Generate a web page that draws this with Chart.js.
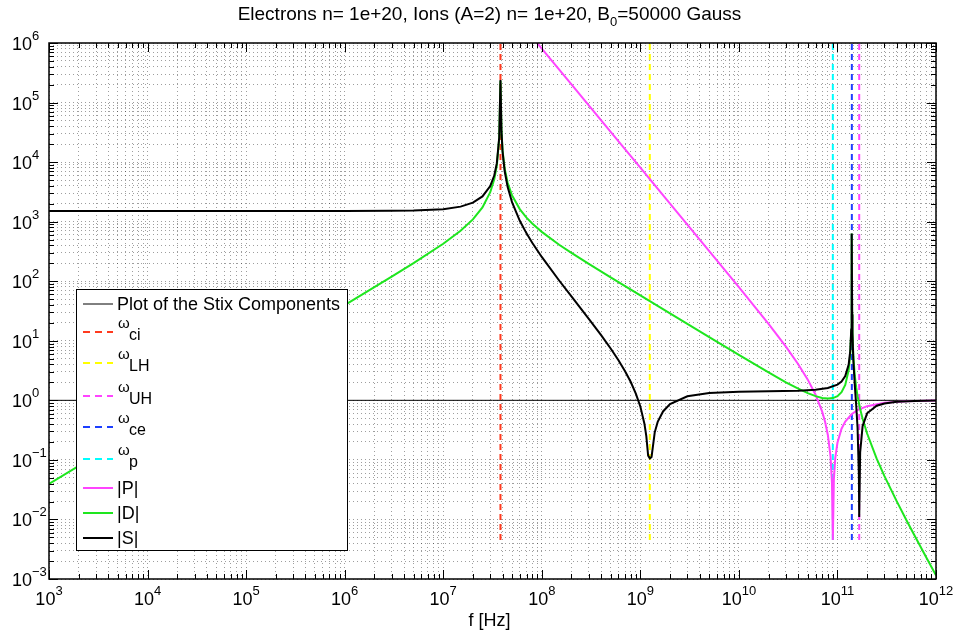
<!DOCTYPE html>
<html>
<head>
<meta charset="utf-8">
<title>Stix components</title>
<script src="https://cdn.jsdelivr.net/npm/chart.js@4.4.1/dist/chart.umd.min.js"></script>
<style>
  html, body { margin: 0; padding: 0; background: #fff; }
  #wrap { width: 958px; height: 635px; }
</style>
</head>
<body>
<div id="wrap"><canvas id="stix" width="958" height="635"></canvas></div>
<script>
// Stix components |P|, |D|, |S| vs frequency

var xTickExps = [3, 4, 5, 6, 7, 8, 9, 10, 11, 12];
var yTickExps = [-3, -2, -1, 0, 1, 2, 3, 4, 5, 6];

var sFreq = [1e3, 1e4, 1e5, 1e6, 3e6, 5e6, 1e7, 1.5e7, 2e7, 2.5e7, 3e7, 3.3e7, 3.5e7, 3.7e7, 3.81e7,
  3.9e7, 4e7, 4.2e7, 4.5e7, 5e7, 6e7, 7e7, 8e7, 1e8, 1.5e8, 2e8, 3e8, 4e8, 5e8, 6e8, 7e8, 8e8, 9e8,
  1e9, 1.1e9, 1.15e9, 1.2e9, 1.25e9, 1.3e9, 1.4e9, 1.5e9, 1.7e9, 2e9, 3e9, 5e9, 1e10, 2e10, 4e10,
  6e10, 8e10, 1e11, 1.1e11, 1.2e11, 1.3e11, 1.35e11, 1.38e11, 1.39e11, 1.4e11, 1.41e11, 1.42e11,
  1.45e11, 1.5e11, 1.55e11, 1.6e11, 1.65e11, 1.663e11, 1.7e11, 1.8e11, 2e11, 2.5e11, 3e11, 4e11,
  6e11, 1e12];
var sAbs = [1512, 1512, 1512, 1513, 1521, 1538, 1623, 1788, 2085, 2651, 3967, 6022, 9602, 25927, 2.4e5,
  32769, 15008, 7076, 3843, 2098, 1023, 636, 442, 255.5, 102.9, 55.5, 23.4, 12.44, 7.42, 4.71, 3.08, 2.03, 1.30,
  0.788, 0.406, 0.251, 0.118, 0.106, 0.112, 0.290, 0.435, 0.651, 0.862, 1.167, 1.324, 1.391, 1.414, 1.446,
  1.503, 1.610, 1.839, 2.075, 2.550, 3.985, 6.86, 15.5, 29.9, 630, 27.7, 13.3,
  4.66, 1.78, 0.822, 0.343, 0.057, 0.011, 0.133, 0.370, 0.605, 0.812, 0.886, 0.943,
  0.976, 0.992];

var dFreq = [1e3, 1e4, 1e5, 1e6, 3e6, 5e6, 1e7, 1.5e7, 2e7, 2.5e7, 3e7, 3.3e7, 3.5e7, 3.7e7, 3.81e7,
  3.9e7, 4e7, 4.2e7, 4.5e7, 5e7, 6e7, 7e7, 8e7, 1e8, 1.5e8, 2e8, 3e8, 5e8, 1e9, 2e9, 5e9, 1e10,
  2e10, 3e10, 4e10, 5e10, 6e10, 7e10, 8e10, 9e10, 1e11, 1.1e11, 1.2e11, 1.3e11, 1.35e11, 1.38e11,
  1.39e11, 1.4e11, 1.41e11, 1.42e11, 1.45e11, 1.5e11, 1.55e11, 1.6e11, 1.7e11, 1.8e11, 2e11,
  2.5e11, 3e11, 4e11, 5e11, 6e11, 8e11, 1e12];
var dAbs = [0.0396, 0.396, 3.96, 39.6, 119.5, 201.5, 425, 703, 1093, 1737, 3119, 5209, 8810, 25149, 2.3e5,
  33375, 15740, 7793, 4535, 2751, 1609, 1169, 931, 674, 410, 299, 195, 115.8, 57.7, 28.8, 11.53, 5.79,
  2.94, 2.01, 1.567, 1.320, 1.175, 1.097, 1.069, 1.090, 1.175, 1.368, 1.808, 3.215, 6.08, 14.7,
  29.1, 630, 28.5, 14.1, 5.46, 2.59, 1.645, 1.175, 0.714, 0.490, 0.277,
  0.105, 0.0534, 0.0201, 0.0098, 0.00553, 0.00227, 0.00115];

var pFreq = [8e7, 9e7, 1e8, 2e8, 5e8, 1e9, 2e9, 5e9, 1e10, 2e10, 3e10, 4e10, 5e10, 6e10, 7e10, 7.5e10,
  8e10, 8.5e10, 8.8e10, 8.98e10, 9.2e10, 9.5e10, 1e11, 1.1e11, 1.2e11, 1.4e11, 1.6e11, 2e11, 3e11,
  5e11, 1e12];
var pAbs = [1.26e6, 9.95e5, 8.06e5, 2.016e5, 3.22e4, 8061, 2015, 321.5, 79.6, 19.16, 7.96, 4.04, 2.225,
  1.240, 0.645, 0.433, 0.260, 0.116, 0.0411, 0.0045, 0.0475, 0.107, 0.194, 0.334, 0.440, 0.589, 0.685,
  0.798, 0.910, 0.968, 0.992];

// unity reference line ("Plot of the Stix Components")
var unityFreq = [1e3, 1e12];
var unityVal = [1, 1];

// characteristic frequencies, drawn as dashed verticals
var resNames = ["ci", "LH", "UH", "ce", "p"];
var resFreqs = [3.81e7, 1.248e9, 1.663e11, 1.4e11, 8.98e10];
var resColors = ["#ff3a1e", "#ffff00", "#ff44ff", "#1c3fff", "#00ffff"];
var resSpan = [4.5e-3, 1e6];

var FONT = '"Liberation Sans", Arial, Helvetica, sans-serif';

function toPoints(xs, ys) {
  return xs.map(function (x, i) { return { x: x, y: ys[i] }; });
}

function logTicks(e0, e1) {
  var ticks = [];
  for (var e = e0; e < e1; e++) {
    for (var m = 1; m <= 9; m++) {
      ticks.push({ value: m * Math.pow(10, e), major: m === 1 });
    }
  }
  ticks.push({ value: Math.pow(10, e1), major: true });
  return ticks;
}

// legend rows drawn by hand so the subscripts come out like the original
var legendRows = [
  { main: "Plot of the Stix Components", sub: "", color: "#000", dash: [], width: 1 }
];
resNames.forEach(function (n, i) {
  legendRows.push({ main: "\u03c9", sub: n, color: resColors[i], dash: [7, 5], width: 2 });
});
legendRows.push({ main: "|P|", sub: "", color: "#ff44ff", dash: [], width: 2 });
legendRows.push({ main: "|D|", sub: "", color: "#1ee61e", dash: [], width: 2 });
legendRows.push({ main: "|S|", sub: "", color: "#000", dash: [], width: 2 });
var legendRowY = [304, 332, 363, 396, 427, 459, 488, 513, 538];

function textW(ctx, s, size) {
  ctx.font = size + "px " + FONT;
  return ctx.measureText(s).width;
}

function drawPow(ctx, exp, x, baseY, supY) {
  ctx.font = "18px " + FONT;
  ctx.fillText("10", x, baseY);
  var w = ctx.measureText("10").width;
  ctx.font = "13px " + FONT;
  ctx.fillText(exp, x + w, supY);
}

var decor = {
  id: "decor",
  afterDraw: function (chart) {
    var ctx = chart.ctx;
    var a = chart.chartArea;
    var xs = chart.scales.x;
    var ys = chart.scales.y;
    ctx.save();

    // inward tick marks on all four sides
    ctx.strokeStyle = "#000";
    ctx.lineWidth = 1;
    ctx.setLineDash([]);
    ctx.beginPath();
    xs.ticks.forEach(function (t) {
      var px = Math.round(xs.getPixelForValue(t.value)) + 0.5;
      var len = t.major ? 9 : 5;
      ctx.moveTo(px, a.bottom); ctx.lineTo(px, a.bottom - len);
      ctx.moveTo(px, a.top); ctx.lineTo(px, a.top + len);
    });
    ys.ticks.forEach(function (t) {
      var py = Math.round(ys.getPixelForValue(t.value)) + 0.5;
      var len = t.major ? 9 : 5;
      ctx.moveTo(a.left, py); ctx.lineTo(a.left + len, py);
      ctx.moveTo(a.right, py); ctx.lineTo(a.right - len, py);
    });
    ctx.stroke();

    ctx.lineWidth = 1.5;
    ctx.strokeRect(a.left, a.top, a.right - a.left, a.bottom - a.top);

    // tick labels 10^n
    ctx.fillStyle = "#000";
    ctx.textAlign = "left";
    ctx.textBaseline = "alphabetic";
    xTickExps.forEach(function (e) {
      var lbl = String(e).replace("-", "\u2212");
      var w = textW(ctx, "10", 18) + textW(ctx, lbl, 13);
      var px = xs.getPixelForValue(Math.pow(10, e));
      drawPow(ctx, lbl, px - w / 2, 605, 595);
    });
    yTickExps.forEach(function (e) {
      var lbl = String(e).replace("-", "\u2212");
      var py = ys.getPixelForValue(Math.pow(10, e));
      drawPow(ctx, lbl, 12, py + 7, py - 3);
    });

    // axis label and title
    var cx = (a.left + a.right) / 2 - 3;
    ctx.font = "18px " + FONT;
    ctx.textAlign = "center";
    ctx.fillText("f [Hz]", cx, 626);

    var t1 = "Electrons n= 1e+20, Ions (A=2) n= 1e+20, B";
    var t2 = "0";
    var t3 = "=50000 Gauss";
    var w1 = textW(ctx, t1, 19), w2 = textW(ctx, t2, 13), w3 = textW(ctx, t3, 19);
    var tx = cx - (w1 + w2 + w3) / 2;
    ctx.textAlign = "left";
    ctx.font = "19px " + FONT;
    ctx.fillText(t1, tx, 20);
    ctx.font = "13px " + FONT;
    ctx.fillText(t2, tx + w1, 26);
    ctx.font = "19px " + FONT;
    ctx.fillText(t3, tx + w1 + w2, 20);

    // legend box
    var lx = 76, ly = 289, lw = 271, lh = 261;
    ctx.fillStyle = "#fff";
    ctx.fillRect(lx, ly, lw, lh);
    ctx.strokeStyle = "#000";
    ctx.lineWidth = 1;
    ctx.strokeRect(lx + 0.5, ly + 0.5, lw, lh);
    legendRows.forEach(function (r, i) {
      var y = legendRowY[i];
      ctx.strokeStyle = r.color;
      ctx.lineWidth = r.width;
      ctx.setLineDash(r.dash);
      ctx.beginPath();
      ctx.moveTo(83, y);
      ctx.lineTo(113, y);
      ctx.stroke();
      ctx.setLineDash([]);
      ctx.fillStyle = "#000";
      if (r.sub) {
        ctx.font = "15px " + FONT;
        ctx.fillText(r.main, 118, y - 4);
        ctx.font = "16px " + FONT;
        ctx.fillText(r.sub, 129, y + 8);
      } else {
        ctx.font = "18px " + FONT;
        ctx.fillText(r.main, 117, y + 6);
      }
    });

    ctx.restore();
  }
};

function lineSet(label, xs, ys, color, width, dash, order) {
  return {
    label: label,
    data: toPoints(xs, ys),
    borderColor: color,
    backgroundColor: color,
    borderWidth: width,
    borderDash: dash,
    pointRadius: 0,
    tension: 0,
    fill: false,
    order: order
  };
}

var datasets = [];
datasets.push(lineSet("Plot of the Stix Components", unityFreq, unityVal, "#000", 1, [], 10));
resNames.forEach(function (n, i) {
  datasets.push(lineSet("w_" + n, [resFreqs[i], resFreqs[i]], resSpan, resColors[i], 2, [6, 4], 9 - i));
});
datasets.push(lineSet("|P|", pFreq, pAbs, "#ff44ff", 2, [], 2));
datasets.push(lineSet("|D|", dFreq, dAbs, "#1ee61e", 2, [], 1));
datasets.push(lineSet("|S|", sFreq, sAbs, "#000", 2, [], 0));

var GRID = "rgba(0,0,0,0.38)";

new Chart(document.getElementById("stix"), {
  type: "line",
  data: { datasets: datasets },
  plugins: [decor],
  options: {
    responsive: false,
    animation: false,
    devicePixelRatio: 1,
    layout: { padding: { top: 43, right: 22, left: 0, bottom: 0 } },
    plugins: { legend: { display: false }, title: { display: false }, tooltip: { enabled: false } },
    scales: {
      x: {
        type: "logarithmic",
        min: 1e3,
        max: 1e12,
        afterBuildTicks: function (s) { s.ticks = logTicks(3, 12); },
        afterFit: function (s) { s.height = 56; },
        ticks: { display: false },
        grid: { color: GRID, lineWidth: 1, drawTicks: false },
        border: { display: false, dash: [1, 3] }
      },
      y: {
        type: "logarithmic",
        min: 1e-3,
        max: 1e6,
        afterBuildTicks: function (s) { s.ticks = logTicks(-3, 6); },
        afterFit: function (s) { s.width = 49; },
        ticks: { display: false },
        grid: { color: GRID, lineWidth: 1, drawTicks: false },
        border: { display: false, dash: [1, 3] }
      }
    }
  }
});
</script>
</body>
</html>
